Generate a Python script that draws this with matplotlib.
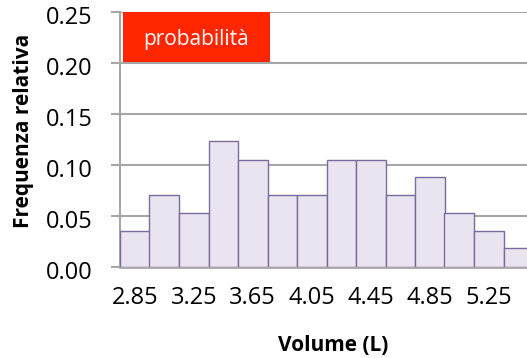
import numpy as np
import matplotlib
matplotlib.use('Agg')
import matplotlib.pyplot as plt
import matplotlib.transforms as mtransforms
from matplotlib.patches import Rectangle

# centri delle classi (L) e frequenze relative
centri = [2.85, 3.05, 3.25, 3.45, 3.65, 3.85, 4.05, 4.25, 4.45, 4.65, 4.85, 5.05, 5.25, 5.45]
freq_rel = [0.035, 0.070, 0.053, 0.123, 0.105, 0.070, 0.070, 0.105, 0.105, 0.070, 0.088, 0.053, 0.035, 0.018]
etichette_x = ['2.85', '3.25', '3.65', '4.05', '4.45', '4.85', '5.25']
ticks_y = [0.00, 0.05, 0.10, 0.15, 0.20, 0.25]

plt.rcParams['font.family'] = ['Open Sans', 'DejaVu Sans']

fig = plt.figure(figsize=(5.27, 3.58), dpi=100)
ax = fig.add_axes([120/527, 1 - 266.7/358, 413/527, 254.7/358])

grigio = '#A6A6A6'
ax.bar(centri, freq_rel, width=0.2, color='#E9E4F0', edgecolor='#7B6A9C',
       linewidth=1.0, zorder=3)

ax.set_xlim(2.75, 5.55)
ax.set_ylim(0, 0.25)
ax.set_yticks(ticks_y)
ax.set_yticklabels([f"{v:.2f}" for v in ticks_y])
ax.set_xticks([float(e) for e in etichette_x])
ax.set_xticklabels(etichette_x)
ax.grid(axis='y', color=grigio, linewidth=1.5, zorder=0)
ax.tick_params(axis='y', length=6.5, width=1.5, color=grigio, labelsize=17, pad=13)
ax.tick_params(axis='x', length=0, labelsize=17, pad=14)

# etichette y leggermente più in basso, come nell'originale
offset = mtransforms.ScaledTranslation(0, -3 / 100, fig.dpi_scale_trans)
for lab in ax.get_yticklabels():
    lab.set_transform(lab.get_transform() + offset)

for s in ['top', 'right']:
    ax.spines[s].set_visible(False)
ax.spines['left'].set_color(grigio)
ax.spines['left'].set_linewidth(1.5)
ax.spines['bottom'].set_color(grigio)
ax.spines['bottom'].set_linewidth(2)

ax.set_ylabel('Frequenza relativa', fontsize=15, fontweight='bold')
ax.yaxis.set_label_coords((34 - 120) / 413, (266.7 - 131) / 254.7)
ax.set_xlabel('Volume (L)', fontsize=15, fontweight='bold')
ax.xaxis.set_label_coords((333 - 120) / 413, (266.7 - 335) / 254.7)

# riquadro rosso in alto a sinistra
x0 = (122.7 - 120) / 413
x1 = (270 - 120) / 413
y0 = (266.7 - 62) / 254.7
ax.add_patch(Rectangle((x0, y0), x1 - x0, 1 - y0, transform=ax.transAxes,
                       facecolor='#FF2600', edgecolor='none', zorder=5, clip_on=False))
ax.text((x0 + x1) / 2, (y0 + 1) / 2 - 0.01, 'probabilità', transform=ax.transAxes,
        ha='center', va='center', color='white', fontsize=15, zorder=6)

fig.savefig('out.png', dpi=100)
